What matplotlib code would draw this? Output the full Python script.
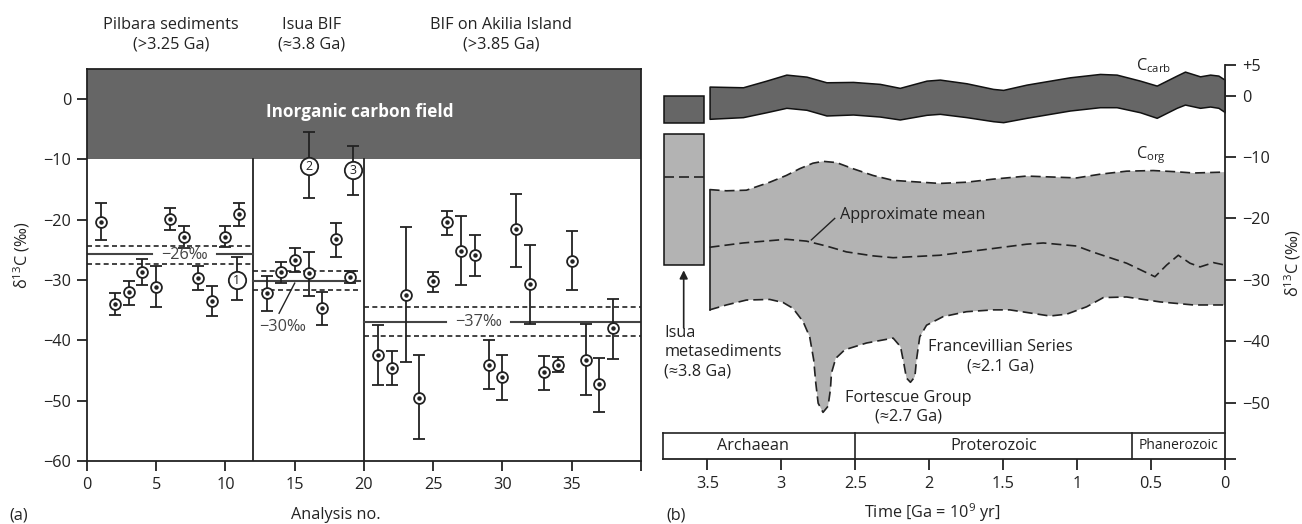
import numpy as np
import matplotlib.pyplot as plt
from matplotlib.patches import Rectangle

plt.rcParams['font.family'] = ['Open Sans', 'DejaVu Sans']
plt.rcParams['mathtext.fontset'] = 'custom'
plt.rcParams['mathtext.rm'] = 'Open Sans'
plt.rcParams['mathtext.it'] = 'Open Sans:italic'
plt.rcParams['mathtext.bf'] = 'Open Sans:bold'
FS = 11.7
plt.rcParams['font.size'] = FS

INK = '#222222'
DARK = '#666666'
LIGHT = '#b3b3b3'

# ---------------- (a) analyses ----------------
analysis_no = [1, 2, 3, 4, 5, 6, 7, 8, 9, 10, 11,
               13, 14, 15, 16, 17, 18, 19,
               21, 22, 23, 24, 25, 26, 27, 28, 29, 30, 31, 32, 33, 34, 35, 36, 37, 38]
d13c = [-20.4, -34.0, -32.0, -28.7, -31.1, -19.9, -22.9, -29.7, -33.5, -22.9, -19.0,
        -32.1, -28.7, -26.6, -28.9, -34.6, -23.2, -29.5,
        -42.5, -44.5, -32.4, -49.5, -30.2, -20.4, -25.1, -25.8, -44.0, -46.0,
        -21.6, -30.6, -45.3, -44.0, -26.9, -43.3, -47.2, -37.9]
d13c_hi = [-17.3, -32.1, -30.2, -26.5, -27.7, -18.1, -21.0, -27.6, -30.9, -21.0, -17.3,
           -29.4, -27.0, -24.7, -25.3, -31.9, -20.6, -28.5,
           -37.4, -41.7, -21.2, -42.4, -28.6, -18.6, -19.4, -22.5, -40.0, -42.5,
           -15.7, -24.1, -42.6, -42.7, -21.8, -37.2, -42.9, -33.1]
d13c_lo = [-23.4, -35.8, -34.1, -30.8, -34.4, -21.7, -24.6, -31.7, -35.9, -24.5, -21.0,
           -35.1, -30.5, -28.6, -32.6, -37.5, -26.1, -30.4,
           -47.4, -47.4, -43.6, -56.3, -31.9, -22.5, -30.8, -29.4, -48.1, -49.9,
           -27.9, -37.2, -48.3, -45.3, -31.7, -49.1, -51.8, -43.1]

numbered_x = [10.8, 16, 19.2]
numbered_y = [-30.0, -11.1, -11.8]
numbered_hi = [-26.2, -5.4, -7.7]
numbered_lo = [-33.3, -16.4, -15.9]
numbered_lbl = ['1', '2', '3']

group_edges = [0, 12, 20, 40]
group_mean = [-25.7, -30.1, -36.9]
group_band_hi = [-24.4, -28.5, -34.4]
group_band_lo = [-27.3, -31.7, -39.3]
group_names = ['Pilbara sediments\n(>3.25 Ga)', 'Isua BIF\n(≈3.8 Ga)',
               'BIF on Akilia Island\n(>3.85 Ga)']
group_name_x = [6.05, 16.2, 29.9]

# ---------------- (b) carbon isotope record through time ----------------
carb_t = [3.485, 3.259, 3.101, 2.966, 2.830, 2.695, 2.515, 2.334, 2.199, 2.018, 1.928,
          1.748, 1.568, 1.500, 1.342, 1.049, 0.846, 0.733, 0.575, 0.462, 0.327, 0.271,
          0.169, 0.101, 0.045, 0.0]
carb_top = [1.48, 1.37, 2.45, 3.43, 3.10, 2.18, 2.24, 1.92, 1.27, 2.45, 2.62,
            2.02, 1.10, 0.94, 1.80, 2.99, 3.54, 3.43, 2.45, 1.64, 3.27, 3.92,
            3.15, 3.43, 3.27, 2.57]
carb_bot = [-3.77, -3.50, -2.70, -1.98, -2.30, -3.23, -3.07, -3.40, -3.88, -3.12, -2.96,
            -3.50, -4.16, -4.32, -3.61, -2.42, -1.88, -1.88, -2.70, -3.61, -1.98, -1.45,
            -1.98, -1.77, -1.98, -2.70]

org_top_t = [3.485, 3.371, 3.236, 3.078, 2.966, 2.876, 2.786, 2.718, 2.627, 2.515, 2.380,
             2.244, 1.928, 1.748, 1.568, 1.342, 1.003, 0.846, 0.665, 0.485, 0.327, 0.214, 0.0]
org_top = [-15.3, -15.5, -15.4, -14.1, -13.0, -11.9, -11.0, -10.7, -10.9, -11.9, -13.0,
           -13.8, -14.3, -14.1, -13.6, -13.1, -13.4, -12.8, -12.3, -12.2, -12.4, -12.6, -12.45]

org_bot_t = [3.485, 3.371, 3.236, 3.078, 2.988, 2.921, 2.853, 2.808, 2.781, 2.767, 2.751,
             2.718, 2.684, 2.668, 2.661, 2.632, 2.571, 2.424, 2.244, 2.194, 2.172, 2.154,
             2.127, 2.097, 2.086, 2.064, 2.018, 1.906, 1.748, 1.568, 1.455, 1.184, 1.071,
             0.936, 0.823, 0.665, 0.440, 0.214, 0.0]
org_bot = [-34.9, -34.1, -33.3, -33.2, -33.7, -34.65, -36.8, -39.3, -43.05, -46.8, -50.1,
           -51.6, -50.6, -47.9, -45.2, -42.8, -41.4, -40.3, -39.5, -40.9, -43.6, -46.0,
           -46.7, -45.8, -43.05, -39.3, -37.4, -36.0, -35.2, -34.9, -34.9, -35.9, -35.6,
           -34.4, -32.9, -32.8, -33.6, -34.1, -34.1]

mean_t = [3.485, 3.259, 2.966, 2.830, 2.695, 2.560, 2.380, 2.244, 1.928, 1.748, 1.568,
          1.342, 1.229, 1.003, 0.891, 0.665, 0.474, 0.395, 0.316, 0.237, 0.169, 0.079, 0.0]
mean_val = [-24.7, -24.0, -23.4, -23.7, -24.5, -25.45, -26.1, -26.4, -26.0, -25.45, -24.9,
            -24.2, -24.0, -24.5, -25.5, -27.3, -29.5, -27.6, -26.0, -27.3, -27.9, -27.2, -27.6]

isua_t = [3.79, 3.52]
isua_carb = [0.0, -4.5]
isua_org = [-6.2, -27.6]
isua_org_mean = -13.3

era_names = ['Archaean', 'Proterozoic', 'Phanerozoic']
era_bounds = [3.8, 2.5, 0.63, 0.0]
era_label_t = [3.19, 1.565, 0.315]

fig = plt.figure(figsize=(13.02, 5.24), dpi=100)

# ======================= panel (a) =======================
ax = fig.add_axes([0.0668, 0.1202, 0.4255, 0.7481])
ax.set_xlim(0, 40)
ax.set_ylim(-60, 5)
ax.axhspan(-10, 5, color=DARK, lw=0, zorder=0)
ax.text(19.7, -2.2, 'Inorganic carbon field', color='white', fontweight='bold',
        ha='center', va='center', fontsize=12.3)

for e in group_edges[1:3]:
    ax.plot([e, e], [-60, -10], color=INK, lw=1.3, zorder=1)

dash = (0, (3, 2))
gaps = [(4.69, 9.37), None, (25.9, 30.6)]
for i in range(3):
    x0, x1 = group_edges[i], group_edges[i + 1]
    if i == 1:
        x1 = 19.7
    ax.plot([x0, x1], [group_band_hi[i]] * 2, color=INK, lw=1.2, ls=dash, zorder=1)
    ax.plot([x0, x1], [group_band_lo[i]] * 2, color=INK, lw=1.2, ls=dash, zorder=1)
    if gaps[i] is None:
        ax.plot([x0, x1], [group_mean[i]] * 2, color='#444444', lw=1.5, zorder=1)
    else:
        ax.plot([x0, gaps[i][0]], [group_mean[i]] * 2, color='#444444', lw=1.5, zorder=1)
        ax.plot([gaps[i][1], x1], [group_mean[i]] * 2, color='#444444', lw=1.5, zorder=1)
ax.text(7.05, -25.9, '−26‰', ha='center', va='center', color='#444444', fontsize=FS)
ax.text(28.25, -36.9, '−37‰', ha='center', va='center', color='#444444', fontsize=FS)
ax.text(14.1, -37.7, '−30‰', ha='center', va='center', color='#444444', fontsize=FS)
ax.plot([13.87, 15.0], [-35.5, -30.5], color=INK, lw=1.0)

y = np.array(d13c)
ax.errorbar(analysis_no, y, yerr=[y - np.array(d13c_lo), np.array(d13c_hi) - y],
            fmt='none', ecolor=INK, elinewidth=1.3, capsize=4, capthick=1.3, zorder=2)
ax.plot(analysis_no, y, 'o', ms=7.8, mfc='white', mec=INK, mew=1.3, zorder=3)
ax.plot(analysis_no, y, 'o', ms=2.2, color=INK, zorder=4)

ny = np.array(numbered_y)
ax.errorbar(numbered_x, ny, yerr=[ny - np.array(numbered_lo), np.array(numbered_hi) - ny],
            fmt='none', ecolor=INK, elinewidth=1.3, capsize=4, capthick=1.3, zorder=2)
ax.plot(numbered_x, ny, 'o', ms=12.5, mfc='white', mec=INK, mew=1.3, zorder=3)
for xx, yy, lb in zip(numbered_x, numbered_y, numbered_lbl):
    ax.text(xx, yy, lb, ha='center', va='center', fontsize=9, color=INK, zorder=5)

for name, gx in zip(group_names, group_name_x):
    ax.text(gx, 10.7, name, ha='center', va='center', fontsize=FS, color=INK,
            linespacing=1.3, clip_on=False)

ax.set_xticks([0, 5, 10, 15, 20, 25, 30, 35, 40])
ax.set_xticklabels(['0', '5', '10', '15', '20', '25', '30', '35', ''])
ax.set_yticks([0, -10, -20, -30, -40, -50, -60])
ax.tick_params(direction='out', length=7.5, width=1.3, color=INK, labelcolor=INK,
               labelsize=FS, pad=4)
for s in ax.spines.values():
    s.set_color(INK)
    s.set_linewidth(1.3)

fig.text(0.007, 0.017, '(a)', fontsize=FS, color=INK, ha='left', va='center')
fig.text(0.258, 0.017, 'Analysis no.', fontsize=FS, color=INK, ha='center', va='center')
fig.text(0.017, 0.513, r'δ$^{13}$C (‰)', fontsize=FS, color=INK, rotation=90,
         ha='center', va='center')

# ======================= panel (b) =======================
bx = fig.add_axes([0.5092, 0.124, 0.4317, 0.752])
bx.set_xlim(3.8, 0)
bx.set_ylim(-59.2, 5)

# carbonate band
bx.fill_between(carb_t, carb_bot, carb_top, facecolor=DARK, edgecolor='#111111', lw=1.1)

# organic carbon band
poly_t = list(org_top_t) + list(org_bot_t[::-1])
poly_v = list(org_top) + list(org_bot[::-1])
bx.fill(poly_t, poly_v, color=LIGHT, lw=0)
ldash = (0, (6, 3))
bx.plot(org_top_t, org_top, color=INK, lw=1.2, ls=ldash)
bx.plot(org_bot_t, org_bot, color=INK, lw=1.2, ls=ldash)
bx.plot([org_top_t[0], org_bot_t[0]], [org_top[0], org_bot[0]], color=INK, lw=1.2)
bx.plot(mean_t, mean_val, color=INK, lw=1.2, ls=ldash)

# Isua metasediments
bx.add_patch(Rectangle((isua_t[1], isua_carb[1]), isua_t[0] - isua_t[1],
                       isua_carb[0] - isua_carb[1], facecolor=DARK, edgecolor='#111111', lw=1.1))
bx.add_patch(Rectangle((isua_t[1], isua_org[1]), isua_t[0] - isua_t[1],
                       isua_org[0] - isua_org[1], facecolor=LIGHT, edgecolor='#111111', lw=1.1))
bx.plot(isua_t, [isua_org_mean] * 2, color=INK, lw=1.2, ls=ldash)
bx.annotate('', xy=(3.66, -28.0), xytext=(3.66, -38.3),
            arrowprops=dict(arrowstyle='-|>', color=INK, lw=1.2, mutation_scale=12))
bx.text(3.79, -37.4, 'Isua\nmetasediments\n(≈3.8 Ga)', ha='left', va='top',
        fontsize=FS, color=INK, linespacing=1.25)

# annotations
bx.text(2.605, -19.5, 'Approximate mean', ha='left', va='center', fontsize=FS, color=INK)
bx.plot([2.797, 2.639], [-23.5, -20.0], color=INK, lw=1.0)
bx.text(0.60, 4.9, r'C$_\mathrm{carb}$', ha='left', va='center', fontsize=FS, color=INK)
bx.text(0.60, -9.7, r'C$_\mathrm{org}$', ha='left', va='center', fontsize=FS, color=INK)
bx.text(2.14, -50.8, 'Fortescue Group\n(≈2.7 Ga)', ha='center', va='center',
        fontsize=FS, color=INK, linespacing=1.25)
bx.text(1.52, -42.5, 'Francevillian Series\n(≈2.1 Ga)', ha='center', va='center',
        fontsize=FS, color=INK, linespacing=1.25)

# era bar
era_lo, era_hi = -59.2, -54.9
bx.plot([era_bounds[0], era_bounds[-1]], [era_hi, era_hi], color=INK, lw=1.2, clip_on=False)
for b in era_bounds[:-1]:
    bx.plot([b, b], [era_lo, era_hi], color=INK, lw=1.2, clip_on=False)
for name, lt in zip(era_names, era_label_t):
    bx.text(lt, (era_lo + era_hi) / 2, name, ha='center', va='center', color=INK,
            fontsize=10 if name == 'Phanerozoic' else FS)

bx.spines['left'].set_visible(False)
bx.spines['top'].set_visible(False)
for s in ('right', 'bottom'):
    bx.spines[s].set_color(INK)
    bx.spines[s].set_linewidth(1.3)
bx.spines['bottom'].set_bounds(3.8, 0)
bx.yaxis.tick_right()
bx.set_yticks([5, 0, -10, -20, -30, -40, -50, -59.2])
bx.set_yticklabels(['+5', '0', '−10', '−20', '−30', '−40', '−50', ''])
bx.set_xticks([3.5, 3, 2.5, 2, 1.5, 1, 0.5, 0])
bx.set_xticklabels(['3.5', '3', '2.5', '2', '1.5', '1', '0.5', '0'])
bx.tick_params(direction='out', length=8, width=1.3, color=INK, labelcolor=INK,
               labelsize=FS, pad=4)

fig.text(0.512, 0.017, '(b)', fontsize=FS, color=INK, ha='left', va='center')
fig.text(0.716, 0.022, r'Time [Ga = 10$^9$ yr]', fontsize=FS, color=INK,
         ha='center', va='center')
fig.text(0.993, 0.497, r'δ$^{13}$C (‰)', fontsize=FS, color=INK, rotation=90,
         ha='center', va='center')

fig.savefig('out.png', dpi=100)
